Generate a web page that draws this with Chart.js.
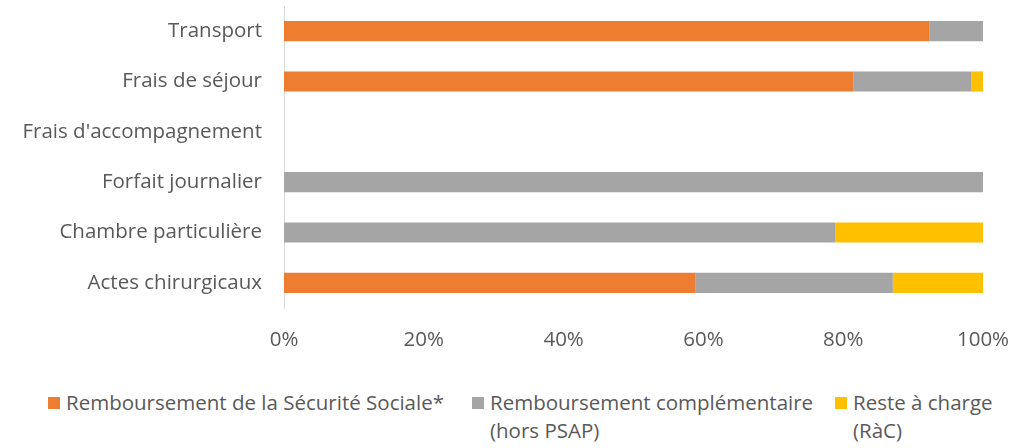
<!DOCTYPE html>
<html lang="fr">
<head>
    <meta charset="UTF-8">
    <title>Répartition des remboursements</title>
    <script src="https://cdn.jsdelivr.net/npm/chart.js"></script>
    <style>
        * { margin: 0; padding: 0; box-sizing: border-box; }
        body { width: 1026px; height: 448px; background: #fff; font-family: 'Open Sans', sans-serif; color: #595959; position: relative; overflow: hidden; }
        .chart-box { position: absolute; left: 0; top: 0; width: 1026px; height: 362px; }
        .legend-item { position: absolute; top: 388px; display: flex; align-items: flex-start; font-size: 20.5px; line-height: 28px; white-space: nowrap; }
        .legend-item span.box { width: 12px; height: 12px; margin-top: 9px; margin-right: 6px; flex: none; }
    </style>
</head>
<body>
    <div class="chart-box"><canvas id="chart"></canvas></div>
    <div id="legend"></div>

    <script>
        // Données (en %)
        const categories = ['Transport', 'Frais de séjour', "Frais d'accompagnement", 'Forfait journalier', 'Chambre particulière', 'Actes chirurgicaux'];
        const securiteSociale = [92.3, 81.5, 0, 0, 0, 58.9];
        const complementaire = [7.7, 16.8, 0, 100, 78.9, 28.2];
        const resteACharge = [0, 1.7, 0, 0, 21.1, 12.9];
        const seriesNames = [['Remboursement de la Sécurité Sociale*'], ['Remboursement complémentaire', '(hors PSAP)'], ['Reste à charge', '(RàC)']];
        const seriesColors = ['#ED7D31', '#A5A5A5', '#FFC000'];
        const xTicks = [0, 20, 40, 60, 80, 100];

        const ctx = document.getElementById('chart').getContext('2d');
        const chart = new Chart(ctx, {
            type: 'bar',
            data: {
                labels: categories,
                datasets: [securiteSociale, complementaire, resteACharge].map((d, i) => ({
                    label: seriesNames[i].join(' '),
                    data: d,
                    backgroundColor: seriesColors[i],
                    borderWidth: 0,
                    categoryPercentage: 0.4,
                    barPercentage: 1
                }))
            },
            options: {
                indexAxis: 'y',
                responsive: true,
                maintainAspectRatio: false,
                animation: false,
                layout: { padding: { top: 6, right: 43, left: 0, bottom: 0 } },
                plugins: { legend: { display: false }, tooltip: { enabled: false } },
                scales: {
                    x: {
                        stacked: true,
                        min: 0,
                        max: 100,
                        afterBuildTicks: s => { s.ticks = xTicks.map(v => ({ value: v })); },
                        afterFit: s => { s.height = 54; s.paddingLeft = 0; s.paddingRight = 0; },
                        grid: { display: false, drawTicks: false },
                        border: { display: false },
                        ticks: { padding: 20, color: '#595959', font: { family: 'Open Sans', size: 20.5 }, callback: v => v + '%' }
                    },
                    y: {
                        stacked: true,
                        afterFit: s => { s.width = 284; s.paddingTop = 0; s.paddingBottom = 0; },
                        grid: { display: false, drawTicks: false },
                        border: { display: true, color: '#D9D9D9', width: 1 },
                        ticks: { padding: 22, color: '#595959', font: { family: 'Open Sans', size: 20.5 } }
                    }
                }
            }
        });

        // Légende HTML (libellés sur deux lignes)
        const legendLeft = [48, 472, 835];
        const legend = document.getElementById('legend');
        seriesNames.forEach((lines, i) => {
            const item = document.createElement('div');
            item.className = 'legend-item';
            item.style.left = legendLeft[i] + 'px';
            item.innerHTML = '<span class="box" style="background:' + seriesColors[i] + '"></span><span>' + lines.join('<br>') + '</span>';
            legend.appendChild(item);
        });
    </script>
</body>
</html>
